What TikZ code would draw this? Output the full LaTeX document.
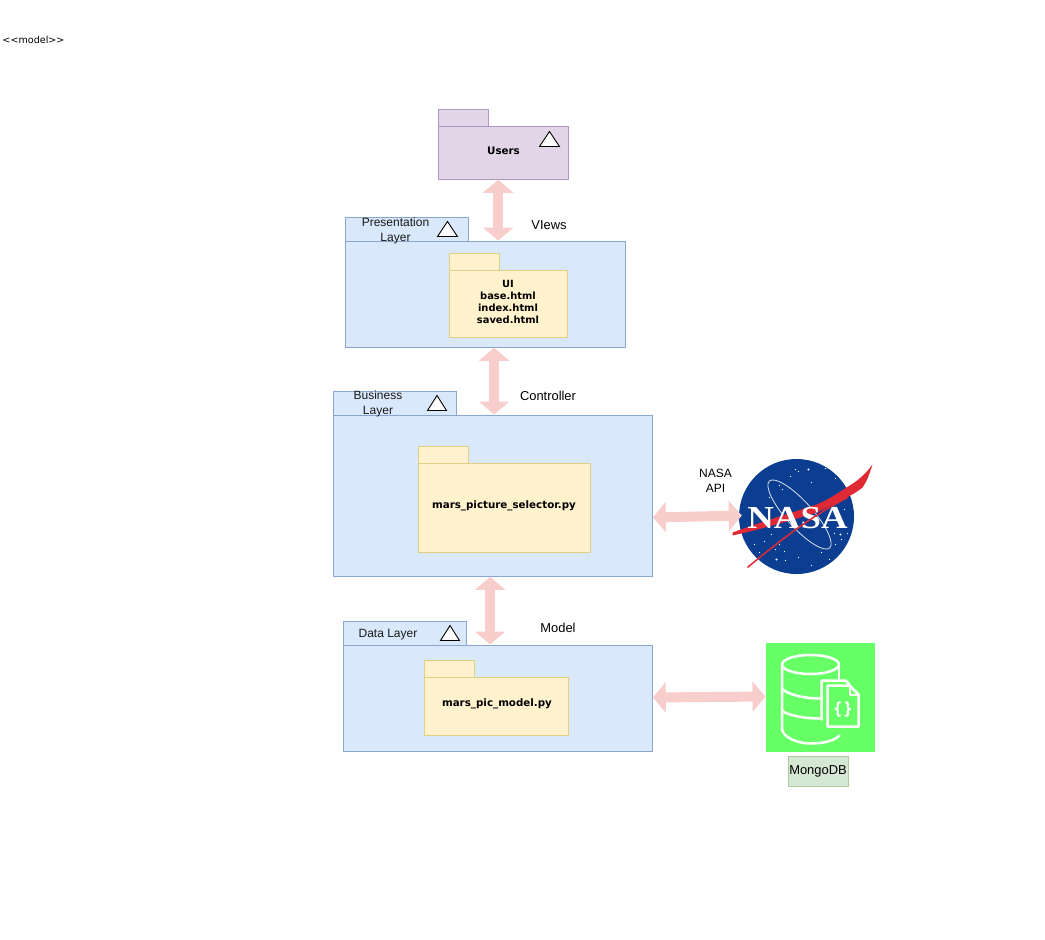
\documentclass[tikz,border=0pt]{standalone}
\usepackage{fontspec}
\setmainfont{Liberation Sans}
\newfontfamily\pkgfont{DejaVu Sans}
\newfontfamily\logofont{Liberation Serif}
\usetikzlibrary{arrows.meta}
\usetikzlibrary{calc}
\definecolor{layerfill}{HTML}{DAE8FC}
\definecolor{layerline}{HTML}{8AA6D0}
\definecolor{filefill}{HTML}{FFF2CC}
\definecolor{fileline}{HTML}{E3CE85}
\definecolor{userfill}{HTML}{E1D5E7}
\definecolor{userline}{HTML}{B196BF}
\definecolor{linkpink}{HTML}{F8CECC}
\definecolor{dbgreen}{HTML}{66FF66}
\definecolor{dbfill}{HTML}{D5E8D4}
\definecolor{dbline}{HTML}{ABCD9C}
\definecolor{nasablue}{HTML}{0B3D91}
\definecolor{nasared}{HTML}{DF2A36}
\tikzset{
	pkg/.style={anchor=north west, inner sep=0pt, line width=1.3pt},
	layer/.style={pkg, draw=layerline, fill=layerfill},
	filepkg/.style={pkg, draw=fileline, fill=filefill},
	userpkg/.style={pkg, draw=userline, fill=userfill},
	pkgmark/.style={draw=black, fill=white, line width=0.9pt, line join=miter},
	pkgtext/.style={font=\pkgfont\bfseries\fontsize{10.3}{12}\selectfont, align=center, text=black},
	plaintext/.style={font=\fontsize{12}{15}\selectfont, align=center, text=black!90},
	labeltext/.style={font=\fontsize{12.9}{15}\selectfont, align=center, text=black},
	link/.style={draw=linkpink, line width=10pt, {Triangle[length=13pt,width=30pt]}-{Triangle[length=13pt,width=30pt]}},
	iconline/.style={draw=white, line width=2.5pt, line cap=round, line join=round}
}
\begin{document}
\begin{tikzpicture}[x=1pt,y=-1pt]
	\useasboundingbox (0.5,0.5) rectangle (1045.5,940.5);
	\node[pkgtext, font=\pkgfont\fontsize{9.6}{10}\selectfont] (stereotype) at (34,40.5) {<{}<model>{}>};
	% users
	\node[userpkg, minimum width=50pt, minimum height=17pt] (userstab) at (438,109) {};
	\node[userpkg, minimum width=130pt, minimum height=53pt] (users) at (438,126) {};
	\node[pkgtext] (userstext) at (504,151) {Users};
	\draw[pkgmark] (540,147) -- (550,132) -- (560,147) -- cycle;
	% presentation layer
	\node[layer, minimum width=123pt, minimum height=24pt] (viewstab) at (345,217) {};
	\node[layer, minimum width=280pt, minimum height=106pt] (views) at (345,241) {};
	\node[plaintext] (viewstabtext) at (396,231) {Presentation\\Layer};
	\draw[pkgmark] (438,237) -- (448,222) -- (458,237) -- cycle;
	\node[filepkg, minimum width=50pt, minimum height=17pt] (uitab) at (449,253) {};
	\node[filepkg, minimum width=118pt, minimum height=67pt] (ui) at (449,270) {};
	\node[pkgtext, font=\pkgfont\bfseries\fontsize{9.9}{12}\selectfont] (uitext) at (508.5,302) {UI\\base.html\\index.html\\saved.html};
	\node[labeltext] (viewslabel) at (549.5,225.5) {VIews};
	% business layer
	\node[layer, minimum width=123pt, minimum height=24pt] (controllertab) at (333,391) {};
	\node[layer, minimum width=319pt, minimum height=161pt] (controller) at (333,415) {};
	\node[plaintext] (controllertabtext) at (378.5,404) {Business\\Layer};
	\draw[pkgmark] (428,411) -- (437.5,396) -- (447,411) -- cycle;
	\node[filepkg, minimum width=50pt, minimum height=17pt] (selectortab) at (418,446) {};
	\node[filepkg, minimum width=172pt, minimum height=89pt] (selector) at (418,463) {};
	\node[pkgtext] (selectortext) at (504.5,506) {mars\_picture\_selector.py};
	\node[labeltext] (controllerlabel) at (548.5,396.5) {Controller};
	% data layer
	\node[layer, minimum width=123pt, minimum height=24pt] (modeltab) at (343,621) {};
	\node[layer, minimum width=309pt, minimum height=106pt] (model) at (343,645) {};
	\node[plaintext] (modeltabtext) at (388.5,635.5) {Data Layer};
	\draw[pkgmark] (441,641) -- (450.5,626) -- (460,641) -- cycle;
	\node[filepkg, minimum width=50pt, minimum height=17pt] (pictab) at (424,660) {};
	\node[filepkg, minimum width=144pt, minimum height=58pt] (pic) at (424,677) {};
	\node[pkgtext] (pictext) at (497.5,704.5) {mars\_pic\_model.py};
	\node[labeltext] (modellabel) at (558.5,628.5) {Model};
	% nasa logo
	\node[circle, fill=nasablue, inner sep=0pt, minimum size=115pt] (nasa) at (797,517) {};
	\foreach \sx/\sy in {791/477,799/472,812/483,826/469,836/479,780/486,770/498,783/490,835/534,843/527,822/553,836/545,848/534,765/542,776/550,760/553,786/561,799/558,812/566,772/535,830/560,796/470,845/510,752/530,755/545,780/545,785/552,842/540}
		\fill[white] (\sx,\sy) circle (0.7pt);
	\fill[white] (809,470) circle (1.2pt) (777,560) circle (1.2pt) (841,535) circle (1.1pt);
	\draw[white!85!nasablue, line width=0.8pt] (800,515) ellipse [x radius=45, y radius=13, rotate=-48];
	\fill[nasared] (873,465) .. controls (865,476) and (857,482) .. (847,488)
		.. controls (835,496) and (825,502) .. (817,505)
		.. controls (790,514) and (760,523) .. (733,533) -- (733,536)
		.. controls (760,530) and (785,523) .. (817,513)
		.. controls (830,507) and (855,495) .. (863,488) .. controls (868,480) .. cycle;
	\node[font=\logofont\bfseries\fontsize{32}{32}\selectfont, text=white, inner sep=0pt, xscale=1.15] (nasatext) at (798,519) {NASA};
	\draw[nasared, line width=1.5pt] (848,498) .. controls (815,515) and (785,537) .. (748,568);
	\node[plaintext, text=black] (nasalabel) at (716,481) {NASA\\API};
	% mongodb icon
	\node[pkg, fill=dbgreen, minimum size=109pt, line width=0pt] (mongo) at (766,643) {};
	\draw[iconline] (811,665) ellipse [x radius=28.5, y radius=9.5];
	\draw[iconline] (782.5,665) -- (782.5,729) .. controls (782.5,737) and (797,744) .. (811,744) .. controls (825,744) and (835,741) .. (840,736);
	\draw[iconline] (839.5,665) -- (839.5,679);
	\draw[iconline] (782.5,689) .. controls (786,694) and (803,699) .. (820,699);
	\draw[iconline] (782.5,711) .. controls (786,715) and (803,719) .. (820,719);
	\draw[iconline] (822,720) -- (822,681) -- (846,681) -- (850,685);
	\draw[iconline, fill=dbgreen] (828,686) -- (850,686) -- (859,695) -- (859,727) -- (828,727) -- cycle;
	\draw[iconline, line width=2pt] (850,686) -- (850,695) -- (859,695);
	\node[font=\pkgfont\bfseries\fontsize{16.5}{17}\selectfont, text=white, inner sep=0pt, xscale=0.8] (jsonmark) at (843.5,710) {\{\hspace{1pt}\}};
	\node[pkg, draw=dbline, fill=dbfill, minimum width=60pt, minimum height=30pt] (mongolabel) at (788,756) {};
	\node[labeltext] (mongotext) at (818.5,771.5) {MongoDB};
	% links
	\draw[link] ([xshift=-5pt]users.south) -- ([xshift=13pt]views.north);
	\draw[link] ([xshift=9pt]views.south) -- ([xshift=1.5pt]controller.north);
	\draw[link] ([xshift=-2.5pt]controller.south) -- ([xshift=-7.5pt]model.north);
	\draw[link] (controller.east |- 0,518) -- ([xshift=3pt]nasa.west |- 0,516);
	\draw[link] (model.east |- 0,698) -- (mongo.west |- 0,697);
\end{tikzpicture}
\end{document}
